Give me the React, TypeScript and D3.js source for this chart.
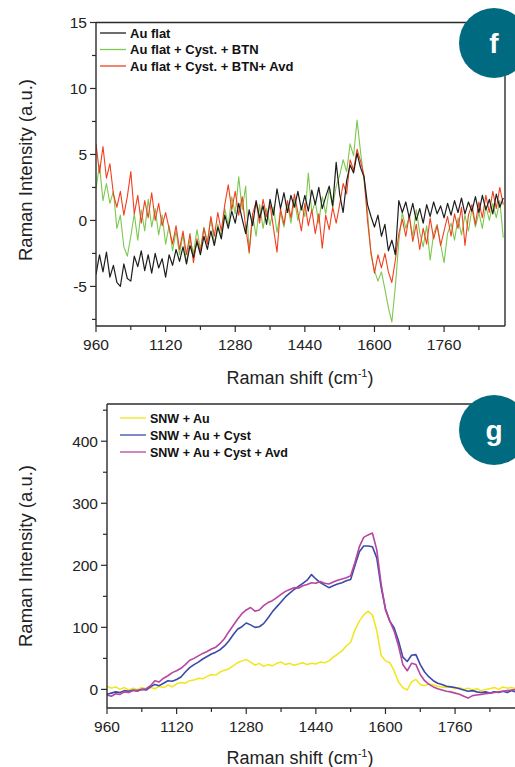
import * as d3 from "d3";

// top panel (f): sampled every 8 cm-1 from 960
const topShift = d3.range(960, 1900, 8);
const auFlat = [
  -4.1, -2.6, -3.9, -2.4, -4.3, -3.4, -4.7, -5.0, -3.3, -4.4,
  -4.6, -2.7, -3.5, -2.3, -3.8, -2.6, -4.0, -2.5, -3.6, -2.9,
  -4.3, -2.6, -3.4, -2.2, -3.1, -2.0, -3.3, -1.9, -2.8, -1.6,
  -2.6, -1.2, -2.2, -0.8, -1.9, -0.5, -1.4, 0.4, -0.6, 0.7,
  -0.2, 1.3, 0.1, -1.0, 0.8, -0.4, 1.5, 0.2, 1.1, -0.3,
  1.6, 0.4, 2.4, 0.9, 2.1, 0.6, 1.9, 1.0, 2.2, 0.8,
  1.9, 0.7, 2.3, 1.2, 2.5, 0.9, 1.8, 2.6, 1.1, 4.4,
  2.0, 0.6, 3.0, 4.2, 3.6, 5.1, 4.0, 3.3, 1.2, 0.3,
  -0.5, 0.4, -1.2, -0.3, -2.3, -1.5, -2.6, 1.5, 0.6, 1.4,
  0.2, 1.3, 0.0, 0.9, -0.2, 1.2, 0.3, 1.4, 0.5, 1.1,
  0.2, 1.3, 0.4, 1.5, 0.6, 1.7, 0.5, 1.4, 0.7, 1.8,
  0.6, 1.9, 0.8, 1.6, 0.5, 2.0, 1.0, 1.7,
];
const auCystBtn = [
  2.4, 4.2, 1.5, 2.8, 1.3, 2.2, -0.6, 0.4, -2.0, -2.7,
  -1.2, 0.5, -1.5, 0.8, -0.8, 1.6, -0.5, 0.9, -1.1, 0.4,
  -1.8, -0.4, -2.3, -0.8, -2.6, -1.0, -3.3, -1.4, -2.5, -0.7,
  -2.2, -0.5, -1.6, 0.2, -1.8, -0.3, -1.2, 0.9, -0.4, 1.8,
  0.5, 3.3, 0.8, 2.6, -2.5, 0.4, -1.2, 1.2, -0.6, 0.9,
  -0.4, 1.0, -0.9, 0.6, -0.5, 1.3, -0.2, 1.6, 0.0, 1.1,
  0.3, 3.6, 0.6, 1.4, -0.2, 1.8, 0.5, 2.4, 1.0, 2.6,
  3.4, 4.6, 3.7, 5.8, 4.9, 7.6, 5.2, 3.0, 0.6, -2.6,
  -3.8, -4.6, -3.9, -5.2, -6.6, -7.7, -5.0, -1.6, 0.6, -0.6,
  0.3, -1.2, 0.8, -0.9, -2.0, -0.4, -3.0, -1.0, -0.3, -1.8,
  -3.2, -1.0, -0.2, -1.5, 0.2, -1.1, 0.4, -0.8, 0.9, -0.5,
  0.6, -0.6, 1.1, 0.0, 1.3, 0.2, 1.5, -1.3,
];
const auCystBtnAvd = [
  5.8, 3.6, 5.6, 3.2, 4.3, 2.0, 1.0, 2.2, 0.4, 1.8,
  3.7, 0.5, 1.9, -0.2, 1.5, 0.2, 2.1, 0.0, 1.3, -0.4,
  0.6, -0.6, -1.8, -0.4, -2.2, -0.8, -2.6, -1.0, -3.2, -1.4,
  -2.4, -0.6, -1.8, 0.3, -1.2, 0.6, -0.8, 1.2, 2.7, 0.8,
  2.2, 0.4, 1.8, -0.5, -2.4, 0.5, 1.4, -0.2, 1.6, 0.3,
  1.2, -0.6, -2.4, 0.9, -0.3, 1.5, 0.2, 2.0, 0.6, -0.8,
  1.3, -0.4, 0.8, -1.0, 0.5, -2.1, 0.4, -0.7, 1.0, -0.2,
  1.2, 2.8, 2.0, 4.6, 3.8, 5.4, 4.5, 3.4, 0.0, -2.4,
  -4.0, -2.6, -3.6, -2.5, -3.9, -4.7, -3.0, -1.0, 0.1, -1.2,
  0.4, -1.6, -0.3, -2.2, -0.6, -1.8, 0.2, -1.4, -0.4, -1.9,
  -0.8, 0.3, -1.2, 0.5, -0.6, 1.0, -1.9, 0.4, 1.2, -0.3,
  1.4, 0.2, 1.9, 0.6, 2.2, 0.9, 2.5, 1.2,
];

// bottom panel (g): sampled every 10 cm-1 from 960
const botShift = d3.range(960, 1901, 10);
const snwAu = [
  5, 2, 4, 0, 3, -1, 2, 0, 3, 1,
  3, 1, 5, 3, 7, 4, 9, 11, 10, 14,
  15, 18, 17, 21, 24, 23, 28, 31, 33, 38,
  43, 46, 48, 44, 39, 42, 37, 40, 38, 42,
  44, 40, 42, 39, 41, 43, 40, 42, 41, 44,
  43, 46, 52, 57, 62, 70, 76, 96, 110, 120,
  126, 120, 95, 55, 46, 43, 30, 12, 3, -1,
  12, 16, 8, 6, 9, 7, 5, 4, 3, 4,
  1, 3, 0, 2, -1, 1, -2, 0, 1, 3,
  0, 4, 2, 3, 1,
];
const snwAuCyst = [
  -8, -6, -4, -5, -2, -3, -1, -2, 0, -1,
  4, 8, 6, 10, 14, 13, 16, 20, 28, 35,
  40, 44, 49, 53, 57, 60, 64, 70, 78, 88,
  97, 101, 107, 104, 100, 101, 106, 115, 125, 133,
  141, 149, 155, 161, 166, 171, 176, 185, 178, 172,
  168, 164, 167, 170, 172, 175, 177, 200, 222, 231,
  231, 230, 212, 165, 130, 110, 99, 78, 52, 45,
  55, 56, 40, 28, 20, 14, 10, 8, 5, 4,
  3, 1, -1, -3, -2, -4, -5, -4, -6, -4,
  -5, -3, -5, -2, -4,
];
const snwAuCystAvd = [
  -9, -11, -7, -8, -4, -5, -2, -3, 0, 1,
  6, 14, 12, 18, 22, 27, 30, 34, 40, 47,
  50, 54, 58, 61, 65, 68, 74, 82, 93, 103,
  113, 122, 128, 132, 126, 128, 135, 140, 143, 148,
  153, 158, 161, 164, 163, 167, 169, 172, 171, 174,
  171, 170, 173, 176, 178, 180, 183, 205, 230, 245,
  249, 252, 225, 170, 128, 110, 94, 70, 40, 30,
  42, 40, 24, 14, 8, 4, 1, -1, -3, -4,
  -6, -8, -11, -14, -10, -9, -8, -7, -6, -5,
  -4, -3, -2, -1, 0,
];

const xTicks = [960, 1120, 1280, 1440, 1600, 1760];
const xMinor = [1040, 1200, 1360, 1520, 1680, 1840];
const topYTicks = [-5, 0, 5, 10, 15];
const topYMinor = [-7.5, -2.5, 2.5, 7.5, 12.5];
const botYTicks = [0, 100, 200, 300, 400];
const botYMinor = [50, 150, 250, 350, 450];

const FONT = "'Liberation Sans', Arial, Helvetica, sans-serif";
const AXIS = "#2b2b2b";
const BADGE = "#006a80";

type Series = { name: string; values: number[]; color: string; width: number };

function Panel({
  id, left, right, top, bottom, yDomain, yTicks, yMinor, shift, series, legend,
  legendX, legendY, legendGap, legendSize, letter, badgeY, rightFrame, titleY, yTitleCenter
}: {
  id: string; left: number; right: number; top: number; bottom: number;
  yDomain: [number, number]; yTicks: number[]; yMinor: number[]; shift: number[];
  series: Series[]; legend: Series[]; legendX: number; legendY: number; legendGap: number; legendSize: number;
  letter: string; badgeY: number; rightFrame: boolean; titleY: number; yTitleCenter: number
}) {
  const x = d3.scaleLinear([960, 1900], [left, right]);
  const y = d3.scaleLinear(yDomain, [bottom, top]);
  const line = d3.line<number>()
    .x((_, i) => x(shift[i]))
    .y(d => y(d));

  return <g>
    <defs>
      <clipPath id={`clip-${id}`}>
        <rect x={left} y={top} width={right - left} height={bottom - top}/>
      </clipPath>
    </defs>
    <g clipPath={`url(#clip-${id})`}>
      {series.map(s =>
        <path key={s.name} d={line(s.values) ?? ""} fill="none" stroke={s.color}
              strokeWidth={s.width} strokeLinejoin="round"/>)}
    </g>
    {/* frame */}
    <line x1={left} x2={left} y1={top} y2={bottom} stroke={AXIS} strokeWidth={1.4}/>
    <line x1={left} x2={right} y1={bottom} y2={bottom} stroke={AXIS} strokeWidth={1.4}/>
    <line x1={left} x2={right} y1={top} y2={top} stroke={AXIS} strokeWidth={1.4}/>
    {rightFrame && <line x1={right} x2={right} y1={top} y2={bottom} stroke={AXIS} strokeWidth={1.4}/>}
    {/* x ticks */}
    {xTicks.map(t => <g key={t}>
      <line x1={x(t)} x2={x(t)} y1={bottom} y2={bottom + 6} stroke={AXIS} strokeWidth={1.2}/>
      <text x={x(t)} y={bottom + 24} textAnchor="middle" fontSize={15.5} fill="#222">{t}</text>
    </g>)}
    {xMinor.map(t => <line key={t} x1={x(t)} x2={x(t)} y1={bottom} y2={bottom + 4} stroke={AXIS} strokeWidth={1.2}/>)}
    {/* y ticks */}
    {yTicks.map(t => <g key={t}>
      <line x1={left - 6} x2={left} y1={y(t)} y2={y(t)} stroke={AXIS} strokeWidth={1.2}/>
      <text x={left - 9} y={y(t) + 5.5} textAnchor="end" fontSize={15.5} fill="#222">{t}</text>
    </g>)}
    {yMinor.map(t => <line key={t} x1={left - 4} x2={left} y1={y(t)} y2={y(t)} stroke={AXIS} strokeWidth={1.2}/>)}
    {/* axis titles */}
    <text x={300} y={titleY} textAnchor="middle" fontSize={18} fill="#222">
      Raman shift (cm<tspan dy={-7} fontSize={11}>-1</tspan><tspan dy={7}>)</tspan>
    </text>
    <text transform={`translate(32,${yTitleCenter}) rotate(-90)`} textAnchor="middle" fontSize={18.5} fill="#222">
      Raman Intensity (a.u.)
    </text>
    {/* legend */}
    {legend.map((s, i) => {
      const ly = legendY + i * legendGap;
      return <g key={s.name}>
        <line x1={legendX} x2={legendX + 26} y1={ly} y2={ly} stroke={s.color} strokeWidth={1.3}/>
        <text x={legendX + 30} y={ly + 4.5} fontSize={legendSize} fontWeight="bold" fill="#111">{s.name}</text>
      </g>;
    })}
    {/* badge */}
    <circle cx={494} cy={badgeY} r={35} fill={BADGE}/>
    <text x={494} y={badgeY + 10} textAnchor="middle" fontSize={28} fontWeight="bold" fill="#fff">{letter}</text>
  </g>;
}

export default function App() {
  const black: Series = {name: "Au flat", values: auFlat, color: "#1e1e1e", width: 1.2};
  const green: Series = {name: "Au flat + Cyst. + BTN", values: auCystBtn, color: "#7dc84f", width: 1.1};
  const red: Series = {name: "Au flat + Cyst. + BTN+ Avd", values: auCystBtnAvd, color: "#f2401f", width: 1.1};
  const yellow: Series = {name: "SNW + Au", values: snwAu, color: "#f2e51a", width: 1.5};
  const blue: Series = {name: "SNW + Au + Cyst", values: snwAuCyst, color: "#3a4aa8", width: 1.6};
  const magenta: Series = {name: "SNW + Au + Cyst + Avd", values: snwAuCystAvd, color: "#b8459f", width: 1.6};

  return <svg width={515} height={767} viewBox="0 0 515 767"
              style={{position: "absolute", left: 0, top: 0, fontFamily: FONT, background: "#fff"}}>
    <rect width={515} height={767} fill="#fff"/>
    <Panel id="f" left={96} right={505} top={22.5} bottom={326} yDomain={[-8, 15]}
           yTicks={topYTicks} yMinor={topYMinor} shift={topShift}
           series={[green, red, black]} legend={[black, green, red]}
           legendX={100} legendY={33} legendGap={16.5} legendSize={13}
           letter="f" badgeY={43} rightFrame={true} titleY={384} yTitleCenter={170}/>
    <Panel id="g" left={107} right={516} top={404} bottom={708} yDomain={[-30, 460]}
           yTicks={botYTicks} yMinor={botYMinor} shift={botShift}
           series={[yellow, blue, magenta]} legend={[yellow, blue, magenta]}
           legendX={120} legendY={418} legendGap={17} legendSize={12.5}
           letter="g" badgeY={430} rightFrame={false} titleY={764} yTitleCenter={556}/>
  </svg>;
}
